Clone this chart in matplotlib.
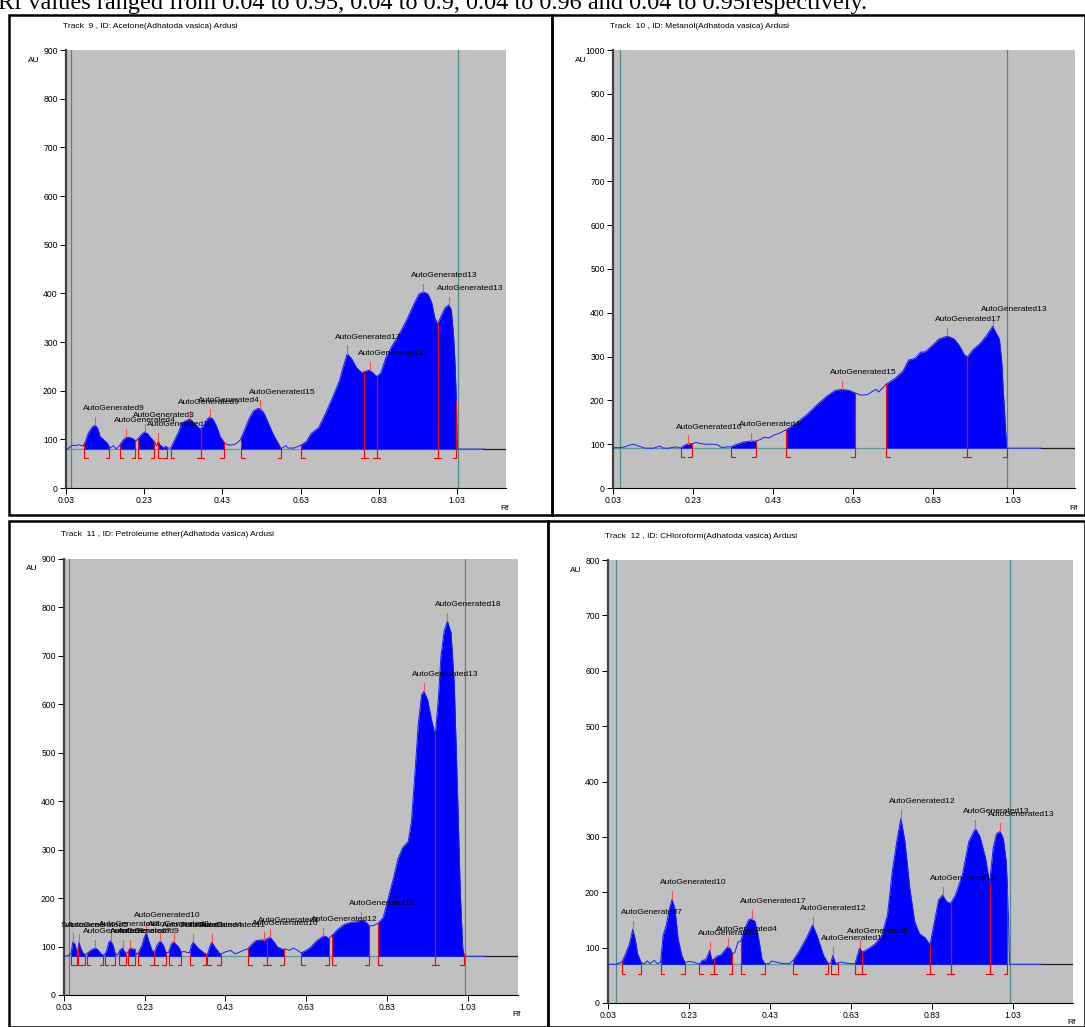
import numpy as np
import matplotlib.pyplot as plt
from matplotlib.patches import Rectangle

plt.rcParams['font.family'] = ['Liberation Sans', 'DejaVu Sans']

W, H = 1085, 1027

# -------------------------------------------------
# data (Rf, AU)
# -------------------------------------------------
p1_curve = [(0.033, 80), (0.046, 88), (0.055, 87), (0.063, 89), (0.073, 86), (0.079, 94), (0.087, 113),
            (0.097, 125), (0.104, 129), (0.111, 123), (0.117, 106), (0.126, 99), (0.135, 93), (0.143, 82),
            (0.151, 87), (0.159, 80), (0.167, 88), (0.177, 99), (0.183, 104), (0.192, 104), (0.202, 101),
            (0.208, 96), (0.215, 102), (0.223, 110), (0.231, 115), (0.238, 112), (0.245, 105), (0.255, 96),
            (0.262, 86), (0.266, 96), (0.270, 89), (0.280, 82), (0.285, 86), (0.291, 82), (0.298, 82),
            (0.308, 99), (0.316, 112), (0.327, 134), (0.339, 139), (0.347, 142), (0.357, 134), (0.365, 127),
            (0.374, 121), (0.383, 130), (0.392, 142), (0.398, 146), (0.406, 141), (0.415, 127), (0.424, 106),
            (0.434, 94), (0.442, 89), (0.453, 88), (0.465, 91), (0.476, 99), (0.487, 120), (0.498, 142),
            (0.509, 158), (0.519, 163), (0.527, 163), (0.536, 154), (0.547, 134), (0.560, 110), (0.572, 93),
            (0.580, 81), (0.592, 87), (0.598, 82), (0.613, 82), (0.625, 86), (0.631, 88), (0.645, 96),
            (0.657, 112), (0.676, 124), (0.694, 154), (0.711, 185), (0.729, 220), (0.737, 244), (0.749, 276),
            (0.760, 266), (0.773, 247), (0.786, 237), (0.796, 240), (0.806, 242), (0.814, 237), (0.825, 229),
            (0.835, 237), (0.848, 268), (0.866, 295), (0.884, 319), (0.902, 347), (0.919, 377), (0.932, 398),
            (0.943, 403), (0.955, 399), (0.965, 381), (0.973, 350), (0.980, 336), (0.989, 353), (0.999, 370),
            (1.008, 376), (1.015, 367), (1.021, 312), (1.025, 250), (1.029, 154), (1.031, 80), (1.100, 80)]
p1_starts = [0.077, 0.167, 0.214, 0.265, 0.298, 0.374, 0.478, 0.631, 0.792, 0.825, 0.980]
p1_ends = [0.141, 0.207, 0.256, 0.288, 0.374, 0.434, 0.580, 0.792, 0.825, 0.980, 1.028]
p1_peaks = [0.104, 0.183, 0.231, 0.266, 0.347, 0.398, 0.527, 0.749, 0.806, 0.943, 1.008]
p1_labels = ["AutoGenerated9", "AutoGenerated4", "AutoGenerated3", "AutoGenerated10", "AutoGenerated9",
             "AutoGenerated4", "AutoGenerated15", "AutoGenerated17", "AutoGenerated12", "AutoGenerated13",
             "AutoGenerated13"]

p2_curve = [(0.030, 92), (0.047, 92), (0.060, 94), (0.068, 97), (0.081, 100), (0.090, 97), (0.100, 94),
            (0.110, 91), (0.132, 91), (0.147, 96), (0.155, 91), (0.170, 91), (0.187, 94), (0.199, 91),
            (0.208, 97), (0.218, 101), (0.227, 101), (0.238, 104), (0.251, 101), (0.263, 100), (0.281, 100),
            (0.293, 98), (0.301, 92), (0.315, 94), (0.325, 94), (0.340, 100), (0.357, 105), (0.374, 107),
            (0.387, 107), (0.399, 111), (0.408, 116), (0.420, 114), (0.433, 121), (0.446, 125), (0.463, 133),
            (0.488, 148), (0.514, 167), (0.540, 190), (0.565, 210), (0.586, 223), (0.603, 225), (0.620, 223),
            (0.635, 217), (0.650, 212), (0.666, 213), (0.679, 221), (0.688, 225), (0.694, 219), (0.705, 229),
            (0.713, 237), (0.735, 250), (0.755, 267), (0.769, 292), (0.785, 296), (0.799, 310), (0.811, 311),
            (0.828, 325), (0.845, 340), (0.866, 347), (0.883, 340), (0.896, 325), (0.909, 303), (0.917, 300),
            (0.930, 316), (0.947, 329), (0.964, 348), (0.979, 369), (0.989, 352), (0.996, 340), (1.002, 286),
            (1.006, 217), (1.010, 156), (1.014, 91), (1.100, 91)]
p2_starts = [0.199, 0.325, 0.463, 0.713, 0.915]
p2_ends = [0.227, 0.387, 0.635, 0.915, 1.014]
p2_peaks = [0.218, 0.374, 0.603, 0.866, 0.979]
p2_labels = ["AutoGenerated10", "AutoGenerated4", "AutoGenerated15", "AutoGenerated17", "AutoGenerated13"]

p3_curve = [(0.030, 80), (0.044, 82), (0.048, 88), (0.052, 110), (0.057, 105), (0.061, 92), (0.064, 90),
            (0.067, 109), (0.072, 95), (0.077, 87), (0.083, 83), (0.090, 88), (0.096, 92), (0.102, 95),
            (0.108, 97), (0.115, 92), (0.123, 84), (0.130, 82), (0.136, 92), (0.141, 109), (0.146, 112),
            (0.152, 102), (0.156, 88), (0.162, 82), (0.169, 93), (0.175, 97), (0.180, 90), (0.184, 85),
            (0.188, 88), (0.194, 97), (0.200, 95), (0.205, 94), (0.210, 83), (0.216, 90), (0.223, 102),
            (0.229, 119), (0.234, 129), (0.241, 109), (0.248, 92), (0.254, 88), (0.260, 102), (0.269, 112),
            (0.277, 101), (0.283, 87), (0.289, 88), (0.296, 105), (0.302, 110), (0.307, 105), (0.314, 99),
            (0.321, 88), (0.327, 90), (0.335, 88), (0.341, 87), (0.346, 103), (0.350, 109), (0.356, 103),
            (0.362, 97), (0.368, 93), (0.377, 87), (0.385, 83), (0.391, 99), (0.396, 109), (0.402, 101),
            (0.410, 92), (0.418, 84), (0.427, 88), (0.435, 90), (0.443, 92), (0.454, 85), (0.464, 88),
            (0.474, 92), (0.485, 95), (0.496, 105), (0.505, 112), (0.518, 114), (0.526, 113), (0.533, 116),
            (0.541, 119), (0.551, 109), (0.559, 99), (0.572, 94), (0.580, 95), (0.589, 92), (0.598, 97),
            (0.609, 92), (0.618, 87), (0.630, 92), (0.642, 99), (0.655, 111), (0.667, 118), (0.673, 122),
            (0.681, 120), (0.686, 116), (0.694, 123), (0.709, 136), (0.725, 146), (0.742, 150), (0.755, 151),
            (0.767, 155), (0.779, 150), (0.786, 143), (0.796, 143), (0.808, 148), (0.821, 160), (0.833, 198),
            (0.846, 240), (0.858, 282), (0.869, 304), (0.883, 317), (0.891, 358), (0.900, 463), (0.908, 560),
            (0.916, 619), (0.922, 627), (0.931, 609), (0.941, 567), (0.950, 536), (0.958, 616), (0.964, 699),
            (0.972, 751), (0.980, 772), (0.989, 748), (0.997, 643), (1.005, 421), (1.012, 212), (1.018, 97),
            (1.022, 80), (1.074, 80)]
p3_starts = [0.047, 0.065, 0.086, 0.131, 0.166, 0.188, 0.213, 0.254, 0.289, 0.341, 0.385, 0.486, 0.533,
             0.618, 0.694, 0.808, 0.950]
p3_ends = [0.062, 0.081, 0.127, 0.156, 0.184, 0.205, 0.252, 0.283, 0.321, 0.383, 0.418, 0.533, 0.574,
           0.686, 0.786, 0.950, 1.021]
p3_peaks = [0.052, 0.067, 0.108, 0.146, 0.175, 0.194, 0.234, 0.269, 0.302, 0.350, 0.396, 0.526, 0.541,
            0.673, 0.767, 0.922, 0.980]
p3_labels = ["Substance1", "AutoGenerated5", "AutoGenerated6", "AutoGenerated8", "AutoGenerated7",
             "AutoGenerated9", "AutoGenerated10", "AutoGenerated8", "AutoGenerated3", "AutoGenerated4",
             "AutoGenerated11", "AutoGenerated10", "AutoGenerated2", "AutoGenerated12", "AutoGenerated12",
             "AutoGenerated13", "AutoGenerated18"]

p4_curve = [(0.030, 70), (0.049, 70), (0.064, 74), (0.072, 86), (0.083, 107), (0.091, 133), (0.097, 116),
            (0.103, 89), (0.112, 73), (0.121, 71), (0.127, 76), (0.134, 71), (0.144, 77), (0.152, 71),
            (0.160, 74), (0.166, 122), (0.174, 141), (0.182, 171), (0.188, 187), (0.195, 171), (0.203, 116),
            (0.212, 86), (0.220, 73), (0.229, 75), (0.241, 74), (0.255, 70), (0.263, 77), (0.271, 78),
            (0.278, 89), (0.281, 95), (0.286, 78), (0.291, 79), (0.300, 85), (0.308, 86), (0.318, 95),
            (0.326, 102), (0.332, 98), (0.337, 89), (0.343, 91), (0.351, 110), (0.358, 112), (0.366, 131),
            (0.377, 150), (0.385, 152), (0.393, 147), (0.402, 116), (0.410, 80), (0.417, 71), (0.427, 71),
            (0.435, 76), (0.444, 74), (0.455, 72), (0.466, 71), (0.478, 71), (0.487, 77), (0.503, 95),
            (0.521, 119), (0.535, 141), (0.546, 122), (0.562, 86), (0.574, 71), (0.580, 72), (0.585, 86),
            (0.592, 71), (0.605, 74), (0.618, 72), (0.630, 71), (0.640, 71), (0.647, 89), (0.651, 99),
            (0.658, 92), (0.673, 98), (0.690, 107), (0.706, 122), (0.720, 159), (0.732, 238), (0.743, 292),
            (0.753, 333), (0.763, 292), (0.775, 207), (0.787, 147), (0.799, 125), (0.813, 118), (0.825, 105),
            (0.836, 147), (0.846, 186), (0.856, 195), (0.866, 183), (0.876, 180), (0.888, 195), (0.905, 232),
            (0.921, 292), (0.937, 315), (0.948, 301), (0.962, 262), (0.972, 216), (0.981, 280), (0.989, 305),
            (0.998, 310), (1.006, 297), (1.013, 256), (1.016, 207), (1.019, 147), (1.021, 74), (1.022, 70),
            (1.100, 70)]
p4_starts = [0.064, 0.160, 0.255, 0.291, 0.358, 0.487, 0.580, 0.640, 0.658, 0.825, 0.876, 0.972]
p4_ends = [0.112, 0.220, 0.291, 0.337, 0.417, 0.574, 0.597, 0.658, 0.825, 0.876, 0.972, 1.016]
p4_peaks = [0.091, 0.188, 0.281, 0.326, 0.385, 0.535, 0.585, 0.651, 0.753, 0.856, 0.937, 0.998]
p4_labels = ["AutoGenerated7", "AutoGenerated10", "AutoGenerated3", "AutoGenerated4", "AutoGenerated17",
             "AutoGenerated12", "AutoGenerated15", "AutoGenerated8", "AutoGenerated12", "AutoGenerated13",
             "AutoGenerated13", "AutoGenerated13"]

titles = ["Track  9 , ID: Acetone(Adhatoda vasica) Ardusi",
          "Track  10 , ID: Metanol(Adhatoda vasica) Ardusi",
          "Track  11 , ID: Petroleume ether(Adhatoda vasica) Ardusi",
          "Track  12 , ID: CHloroform(Adhatoda vasica) Ardusi"]
baselines = [80, 91, 80, 70]
ymaxes = [900, 1000, 900, 800]
rf_max = [1.155, 1.185, 1.155, 1.178]
plates = [(0.044, 1.033), (0.047, 1.016), (0.042, 1.024), (0.050, 1.022)]
rf_ticks = [0.03, 0.23, 0.43, 0.63, 0.83, 1.03]
top_note = ("Rf values ranged from 0.04 to 0.95, 0.04 to 0.9, 0.04 to 0.96 and 0.04 to 0.95"
            "respectively.")

FS = 6.0


def px_axes(fig, x0, x1, y0, y1):
    return fig.add_axes([x0 / W, 1 - y1 / H, (x1 - x0) / W, (y1 - y0) / H])


def draw_panel(ax, curve, base, ymax, xmax, starts, ends, peaks, labels, plate):
    rf = np.array([c[0] for c in curve])
    au = np.array([c[1] for c in curve])
    ax.set_facecolor('#c0c0c0')
    ax.set_xlim(0.03, xmax)
    ax.set_ylim(0, ymax)
    for sp in ['top', 'right']:
        ax.spines[sp].set_visible(False)
    ax.spines['left'].set_color('#404040')
    ax.spines['left'].set_linewidth(1.6)
    ax.spines['bottom'].set_linewidth(0.8)
    ax.set_xticks(rf_ticks)
    ax.set_xticklabels(["%.2f" % t for t in rf_ticks])
    ax.set_yticks(np.arange(0, ymax + 1, 100))
    ax.tick_params(labelsize=6.2, length=4, width=0.7, pad=2)

    # baseline
    ax.plot([0.03, rf[-1]], [base, base], color='#5f9a9a', lw=0.9, zorder=1)
    ax.plot([rf[-1], xmax], [base, base], color='#202020', lw=0.9, zorder=1)
    # filled peaks
    for s, e in zip(starts, ends):
        poly = ax.fill_between(rf, base, au, color='#0000ff', lw=0, zorder=2)
        poly.set_clip_path(Rectangle((s, 0), e - s, ymax, transform=ax.transData))
    ax.plot(rf, au, color='#1a1aff', lw=0.7, zorder=3)
    # plate limits
    for x in plate:
        ax.axvline(x, color='#4a8c8c', lw=0.9, zorder=1)
    # peak brackets
    bot = base - 0.021 * ymax
    tk = 0.009
    for s in starts:
        ax.plot([s, s, s + tk], [np.interp(s, rf, au), bot, bot], color='#ff0000', lw=0.8, zorder=4)
    for e in ends:
        ax.plot([e - tk, e, e], [bot, bot, np.interp(e, rf, au)], color='#ff0000', lw=0.8, zorder=4)
    # peak maxima
    for p, lab in zip(peaks, labels):
        top = np.interp(p, rf, au)
        ax.plot([p, p], [top, top + 0.019 * ymax], color='#ff5050', lw=0.8, zorder=4)
        ax.text(p - 0.03, top + 0.038 * ymax, lab, fontsize=FS, va='center', ha='left', zorder=5)


fig = plt.figure(figsize=(W / 100, H / 100), dpi=100)

# panel frames
for x0, x1, y0, y1 in [(9, 552, 15, 515), (552, 1085, 15, 515), (9, 548, 521, 1027), (548, 1085, 521, 1027)]:
    fig.add_artist(Rectangle((x0 / W, 1 - y1 / H), (x1 - x0) / W, (y1 - y0) / H, fill=False,
                             lw=1.8, edgecolor='black', transform=fig.transFigure))

fig.text(-2 / W, 1 - 9 / H, top_note, fontsize=17.5, family=['Liberation Serif', 'DejaVu Serif'],
         va='baseline', ha='left')

boxes = [(66, 506, 50, 488), (613, 1075, 50, 488), (64, 518, 559, 995), (608, 1073, 560, 1003)]
curves = [p1_curve, p2_curve, p3_curve, p4_curve]
starts = [p1_starts, p2_starts, p3_starts, p4_starts]
ends = [p1_ends, p2_ends, p3_ends, p4_ends]
peaks = [p1_peaks, p2_peaks, p3_peaks, p4_peaks]
labels = [p1_labels, p2_labels, p3_labels, p4_labels]

for i, (x0, x1, y0, y1) in enumerate(boxes):
    ax = px_axes(fig, x0, x1, y0, y1)
    draw_panel(ax, curves[i], baselines[i], ymaxes[i], rf_max[i], starts[i], ends[i], peaks[i],
               labels[i], plates[i])
    fig.text((x0 - 3) / W, 1 - (y0 - 24) / H, titles[i], fontsize=6.0, va='center', ha='left')
    fig.text((x0 - 38) / W, 1 - (y0 + 10) / H, "AU", fontsize=6.0, va='center', ha='left')
    fig.text((x1 - 6) / W, 1 - (y1 + 20) / H, "Rf", fontsize=6.0, va='center', ha='left')

fig.savefig("out.png", dpi=100)
